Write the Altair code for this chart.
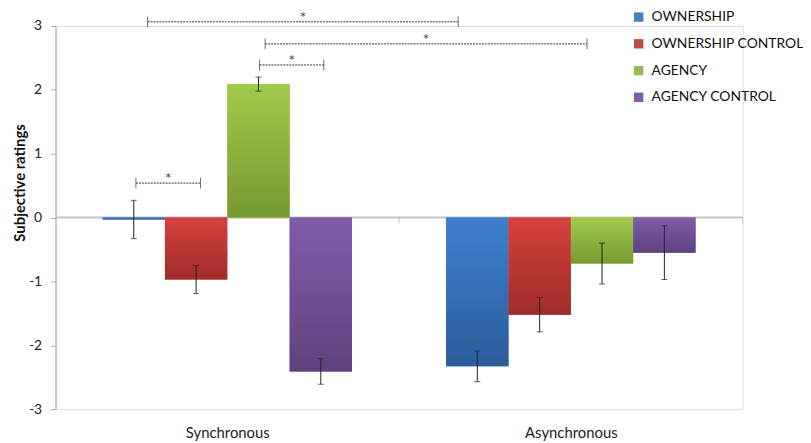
import altair as alt
import pandas as pd

conditions = ["Synchronous", "Asynchronous"]
series = ["OWNERSHIP", "OWNERSHIP CONTROL", "AGENCY", "AGENCY CONTROL"]
means_sync = [-0.03, -0.97, 2.09, -2.41]
means_async = [-2.33, -1.52, -0.72, -0.55]
err_sync = [0.30, 0.22, 0.11, 0.20]
err_async = [0.24, 0.27, 0.32, 0.42]
y_ticks = [-3, -2, -1, 0, 1, 2, 3]
cat_bounds = [1, 2]

legend_colors = ["#4A7EBB", "#BE4B48", "#98B954", "#7D60A0"]
grad_top = ["#3D80D0", "#D6413E", "#A0CA4C", "#805CAA"]
grad_bot = ["#2B5C9A", "#A02C2A", "#779A30", "#5E427E"]

# significance brackets (in category units: each condition spans 1)
br_start = [0.268, 0.610, 0.594, 0.234]
br_end = [1.172, 1.547, 0.781, 0.422]
br_y = [3.065, 2.72, 2.39, 0.54]
br_label = ["*", "*", "*", "*"]

gap = 0.274
outer = gap / 2
bw = (1 - gap) / len(series)

rows = []
for g, (cond, means, errs) in enumerate(zip(conditions, [means_sync, means_async], [err_sync, err_async])):
    for s, name in enumerate(series):
        x0 = g + outer + s * bw
        rows.append(dict(condition=cond, series=name, x0=x0, x1=x0 + bw, xc=x0 + bw / 2,
                         mean=means[s], lo=means[s] - errs[s], hi=means[s] + errs[s], zero=0.0))
df = pd.DataFrame(rows)
caps = pd.concat([df.assign(yv=df["lo"]), df.assign(yv=df["hi"])])

br = pd.DataFrame(dict(x0=br_start, x1=br_end, y=br_y, label=br_label))
br["xm"] = (br["x0"] + br["x1"]) / 2
br_ends = pd.concat([br.assign(xe=br["x0"]), br.assign(xe=br["x1"])])

xscale = alt.Scale(domain=[0, 2], nice=False, zero=False)
yscale = alt.Scale(domain=[-3, 3], nice=False)

xaxis = alt.Axis(values=[0.5, 1.5], labelExpr="datum.value < 1 ? 'Synchronous' : 'Asynchronous'",
                 ticks=False, domain=False, grid=False, title=None, labelFontSize=15,
                 labelPadding=17, labelColor="#222222")
yaxis = alt.Axis(values=y_ticks, labelExpr="'' + datum.value", grid=False, title="Subjective ratings",
                 titleFontWeight="bold", titleFontSize=15, titleColor="#111111",
                 titleX=-36, titleY=158, titleAngle=270, titleAlign="center", titleBaseline="middle",
                 domainColor="#A6A6A6", tickColor="#A6A6A6", tickSize=5, labelFontSize=14,
                 labelPadding=9, labelColor="#222222")

base = alt.Chart(df)

zero_line = alt.Chart(pd.DataFrame(dict(a=[0], b=[2], z=[0]))).mark_rule(color="#C4C4C4", strokeWidth=2).encode(
    x=alt.X("a:Q", scale=xscale, axis=xaxis), x2="b:Q",
    y=alt.Y("z:Q", scale=yscale, axis=yaxis))
cat_ticks = alt.Chart(pd.DataFrame(dict(a=cat_bounds, z=[0] * len(cat_bounds)))).mark_tick(
    orient="vertical", size=6, thickness=1, color="#B0B0B0", yOffset=3).encode(
    x="a:Q", y="z:Q")

solid = base.mark_bar().encode(
    x=alt.X("x0:Q", scale=xscale, axis=xaxis), x2="x1:Q",
    y=alt.Y("mean:Q", scale=yscale, axis=yaxis), y2="zero:Q",
    color=alt.Color("series:N", scale=alt.Scale(domain=series, range=legend_colors),
                    legend=alt.Legend(orient="none", legendX=582, legendY=-16, title=None,
                                      symbolType="square", symbolSize=90, symbolStrokeWidth=0,
                                      labelFontSize=14, labelColor="#111111", rowPadding=13,
                                      labelOffset=6, labelLimit=300)))

grad_layers = []
for s, name in enumerate(series):
    grad = alt.LinearGradient(gradient="linear", x1=0, x2=0, y1=0, y2=1,
                              stops=[alt.GradientStop(offset=0, color=grad_top[s]),
                                     alt.GradientStop(offset=1, color=grad_bot[s])])
    grad_layers.append(
        base.transform_filter(alt.datum.series == name).mark_bar(color=grad).encode(
            x=alt.X("x0:Q", scale=xscale, axis=xaxis), x2="x1:Q",
            y=alt.Y("mean:Q", scale=yscale, axis=yaxis), y2="zero:Q"))

stems = base.mark_rule(color="#222222", strokeWidth=1).encode(
    x="xc:Q", y="lo:Q", y2="hi:Q")
cap_marks = alt.Chart(caps).mark_tick(orient="horizontal", size=6, thickness=1, color="#222222").encode(
    x="xc:Q", y="yv:Q")

br_lines = alt.Chart(br).mark_rule(color="#333333", strokeDash=[2, 1], strokeWidth=1).encode(
    x="x0:Q", x2="x1:Q", y="y:Q")
br_ticks = alt.Chart(br_ends).mark_tick(orient="vertical", size=11, thickness=1, color="#333333").encode(
    x="xe:Q", y="y:Q")
br_text = alt.Chart(br).mark_text(fontSize=11, color="#333333", baseline="middle", dy=-5,
                                  font="DejaVu Sans").encode(
    x="xm:Q", y="y:Q", text="label:N")

chart = alt.layer(zero_line, cat_ticks, solid, *grad_layers, stems, cap_marks, br_lines, br_ticks, br_text).properties(
    width=694, height=387, autosize=alt.AutoSizeParams(type="none"),
    padding={"left": 48, "top": 16, "right": 61, "bottom": 32}
).configure_view(stroke=None).configure(font="Lato").configure_axis(labelFont="Lato", titleFont="Lato").configure_legend(labelFont="Lato")

chart.save("out.html", embed_options={"renderer": "svg", "actions": False})
